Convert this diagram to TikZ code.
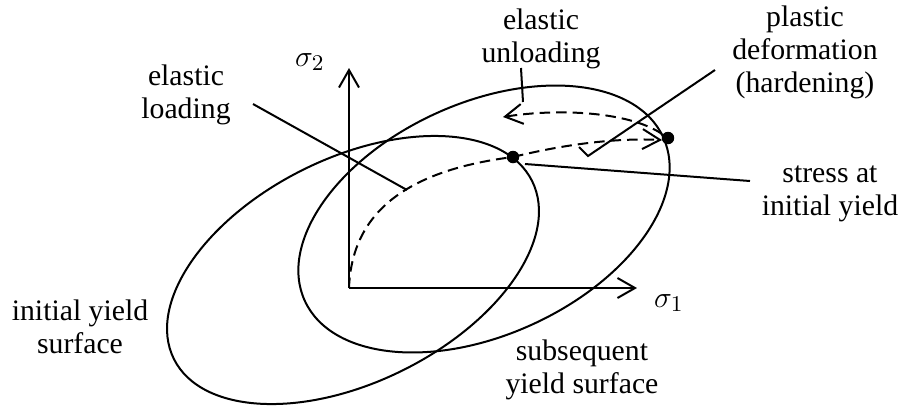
\documentclass[tikz,border=0pt]{standalone}
\usepackage{fontspec}
\setmainfont{Liberation Serif}
\usetikzlibrary{arrows.meta}
\begin{document}
\begin{tikzpicture}[x=0.4pt,y=-0.4pt,
  every node/.style={font=\fontsize{11.9}{13.2}\selectfont},
  ln/.style={line width=0.8pt},
  dsh/.style={line width=0.8pt, dash pattern=on 4.2pt off 2.4pt},
  tip/.style={-{Straight Barb[length=7pt,width=8pt]}},
  lbl/.style={align=center, inner sep=0pt, anchor=base},
  axl/.style={inner sep=0pt, font=\fontsize{13}{15}\selectfont},
  dot/.style={circle, fill=black, inner sep=0pt, minimum size=5pt}
]
\useasboundingbox (0,0) rectangle (903,409);
% axes
\coordinate (O) at (349,288);
\coordinate (Y) at (349,68);
\coordinate (X) at (637,288);
\draw[ln,tip] (O) -- (Y);
\draw[ln,tip] (O) -- (X);
\node[axl] (s2) at (310,62) {$\sigma_2$};
\node[axl] (s1) at (669,303) {$\sigma_1$};
% yield surfaces
\draw[ln, rotate around={26.4:(353,270)}] (353,270) ellipse [x radius=200, y radius=112];
\draw[ln, rotate around={24.5:(484,219)}] (484,219) ellipse [x radius=197, y radius=116];
% points
\node[dot] (p1) at (513,157) {};
\node[dot] (p2) at (668,138) {};
% paths
\draw[dsh] (O) .. controls (352,210) and (410,170) .. (p1.center);
\coordinate (h2) at (662,140);
\draw[dsh,tip] (p1.center) .. controls (570,143) and (620,138) .. (h2);
\coordinate (u1) at (662,134);
\coordinate (u2) at (503,117);
\draw[dsh,tip] (u1) .. controls (630,112) and (560,108) .. (u2);
% labels (anchor = baseline of last line)
\node[lbl] (lload) at (186,118) {elastic\\loading};
\node[lbl] (lunl) at (541,62) {elastic\\unloading};
\node[lbl] (lplas) at (805,92) {plastic\\deformation\\(hardening)};
\node[lbl] (lstr) at (830,215) {stress at\\initial yield};
\node[lbl] (linit) at (80,353) {initial yield\\surface};
\node[lbl] (lsub) at (582,393) {subsequent\\yield surface};
% leaders
\coordinate (a1) at (253,104);
\coordinate (a2) at (407,190);
\draw[ln] (a1) -- (a2);
\coordinate (b1) at (521,68);
\coordinate (b2) at (523,102);
\draw[ln] (b1) -- (b2);
\coordinate (c1) at (715,70);
\coordinate (c2) at (588,156);
\coordinate (c3) at (579,147);
\draw[ln] (c1) -- (c2) -- (c3);
\coordinate (d1) at (525,164);
\coordinate (d2) at (750,181);
\draw[ln] (d1) -- (d2);
\end{tikzpicture}
\end{document}
